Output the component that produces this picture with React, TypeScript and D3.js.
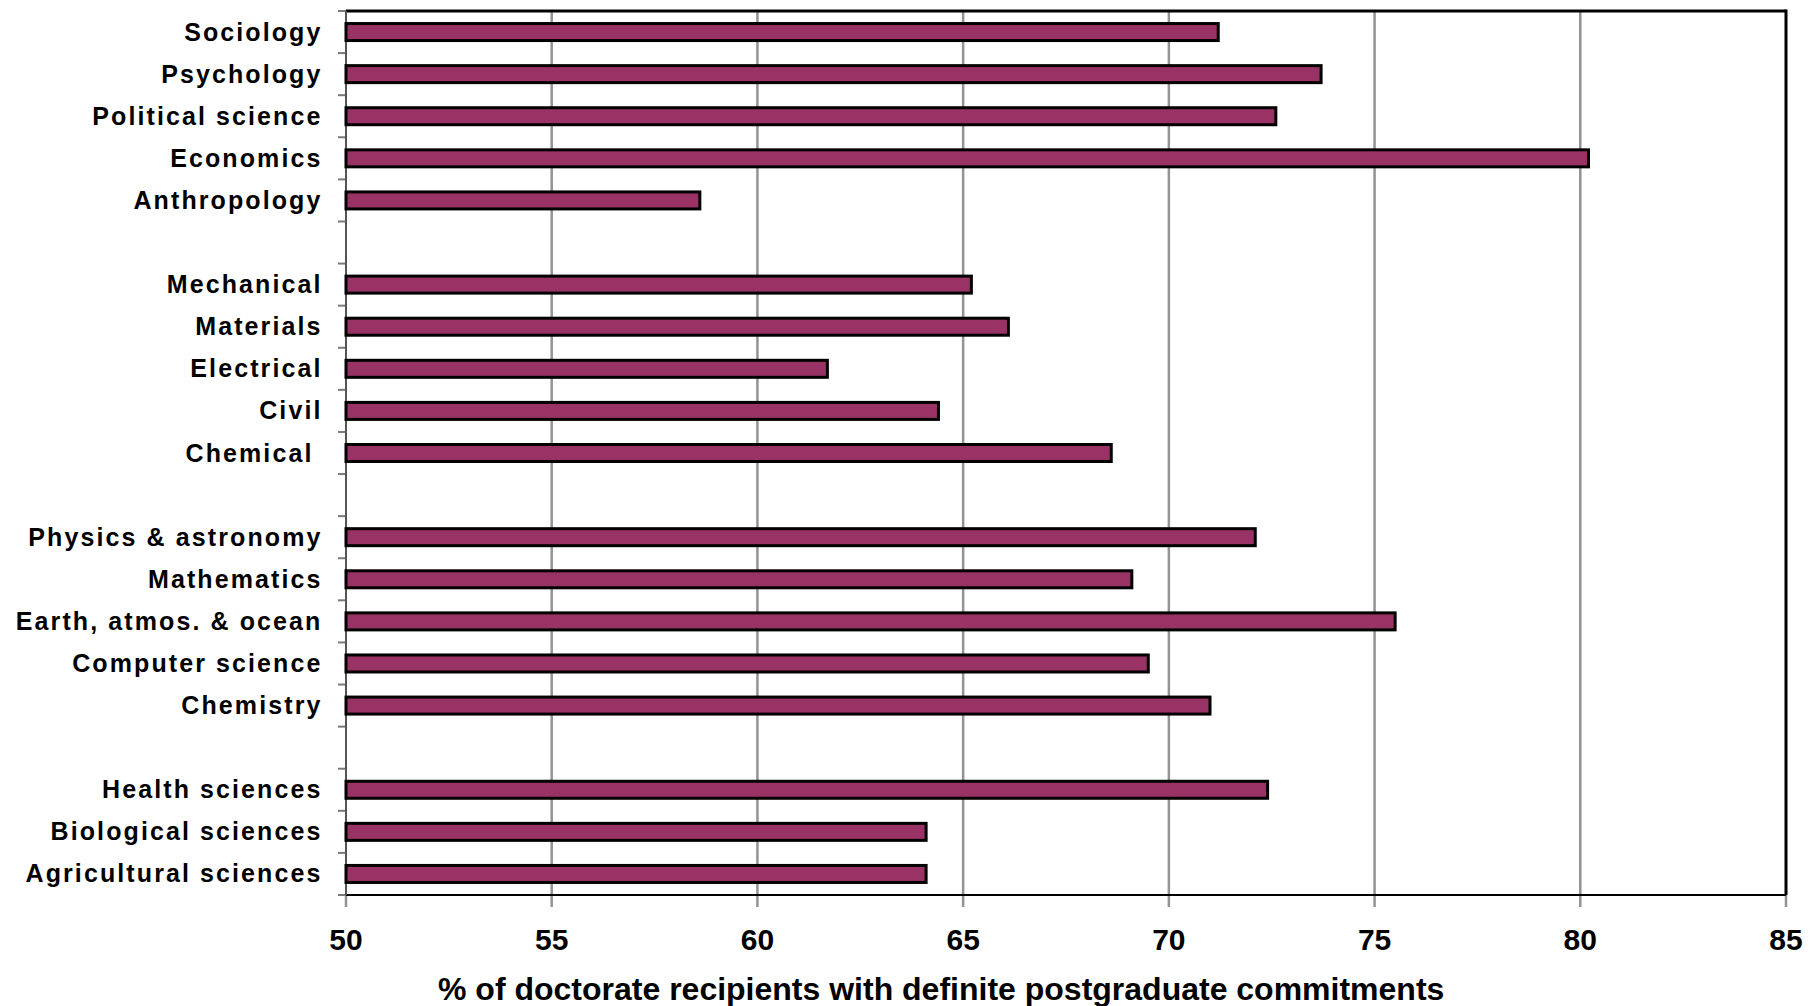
import React from 'react';
import * as d3 from 'd3';

const categories = [
  "Sociology", "Psychology", "Political science", "Economics", "Anthropology", "",
  "Mechanical", "Materials", "Electrical", "Civil", "Chemical ", "",
  "Physics & astronomy", "Mathematics", "Earth, atmos. & ocean", "Computer science", "Chemistry", "",
  "Health sciences", "Biological sciences", "Agricultural sciences",
];
const values: (number | null)[] = [
  71.2, 73.7, 72.6, 80.2, 58.6, null,
  65.2, 66.1, 61.7, 64.4, 68.6, null,
  72.1, 69.1, 75.5, 69.5, 71.0, null,
  72.4, 64.1, 64.1,
];
const xTicks = [50, 55, 60, 65, 70, 75, 80, 85];
const xTitle = "% of doctorate recipients with definite postgraduate commitments";

const W = 1818, H = 1006;
const left = 346, right = 1786, top = 11, bottom = 895;
const FONT = "'Liberation Sans', Arial, Helvetica, sans-serif";

export default function App() {
  const x = d3.scaleLinear().domain([50, 85]).range([left, right]);
  const y = d3.scaleBand<number>().domain(d3.range(categories.length)).range([top, bottom]).padding(0);
  const bw = y.bandwidth();
  const barH = 17;
  const boundaries = d3.range(categories.length + 1).map(i => top + i * bw);

  return (
    <svg width={W} height={H} style={{ position: 'absolute', left: 0, top: 0, background: '#fff' }}>
      <rect x={0} y={0} width={W} height={H} fill="#fff" />
      {xTicks.filter(t => t > 50 && t < 85).map(t => (
        <line key={'g' + t} x1={x(t)} x2={x(t)} y1={top} y2={bottom} stroke="#939393" strokeWidth={2.5} />
      ))}
      {xTicks.map(t => (
        <line key={'bt' + t} x1={x(t)} x2={x(t)} y1={bottom} y2={bottom + 12} stroke="#939393" strokeWidth={2.5} />
      ))}
      {boundaries.map((b, i) => (
        <line key={'lt' + i} x1={left - 8} x2={left} y1={b} y2={b} stroke="#7a7a7a" strokeWidth={2} />
      ))}
      <line x1={left} x2={right} y1={top} y2={top} stroke="#000" strokeWidth={3} />
      <line x1={right} x2={right} y1={top - 1.5} y2={bottom} stroke="#000" strokeWidth={3} />
      <line x1={left} x2={right} y1={bottom} y2={bottom} stroke="#000" strokeWidth={2} />
      <line x1={left} x2={left} y1={top} y2={bottom} stroke="#555" strokeWidth={2} />
      {values.map((v, i) => v == null ? null : (
        <rect key={'b' + i} x={x(50)} y={(y(i) as number) + bw / 2 - barH / 2} width={x(v) - x(50)} height={barH}
          fill="#993366" stroke="#000" strokeWidth={3} />
      ))}
      {categories.map((c, i) => c ? (
        <text key={'c' + i} x={322.5} y={(y(i) as number) + bw / 2 + 8.5} textAnchor="end"
          fontFamily={FONT} fontWeight="bold" fontSize={25} letterSpacing={2.1}
          style={{ whiteSpace: 'pre' }} fill="#000">{c}</text>
      ) : null)}
      {xTicks.map(t => (
        <text key={'tl' + t} x={x(t)} y={950} textAnchor="middle" fontFamily={FONT}
          fontWeight="bold" fontSize={30} fill="#000">{t}</text>
      ))}
      <text x={438} y={1000} fontFamily={FONT} fontWeight="bold" fontSize={32} fill="#000">{xTitle}</text>
    </svg>
  );
}
